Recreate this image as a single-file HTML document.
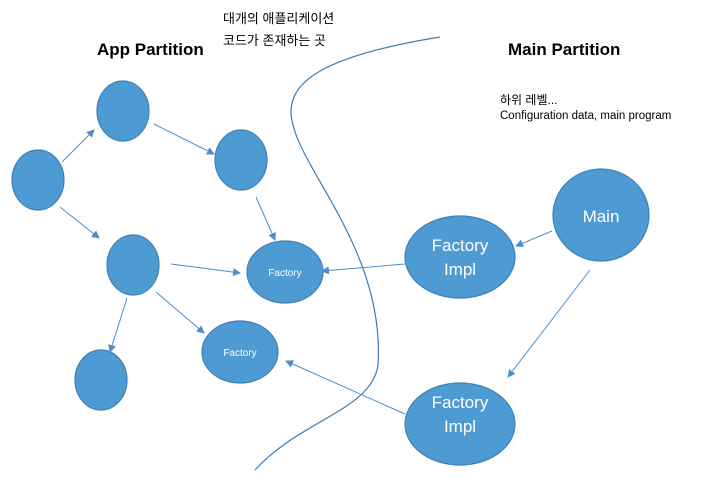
<!DOCTYPE html>
<html><head><meta charset="utf-8"><style>
html,body{margin:0;padding:0;background:#fff;}
svg{display:block;}
text{font-family:"Liberation Sans","Noto Sans CJK KR",sans-serif;}
</style></head><body>
<svg width="718" height="483" viewBox="0 0 718 483" xmlns="http://www.w3.org/2000/svg">
<defs>
<marker id="ah" markerWidth="8" markerHeight="8" refX="7" refY="4" orient="auto" markerUnits="userSpaceOnUse">
<path d="M0,0 L8,4 L0,8 z" fill="#4a8fcc"/>
</marker>
</defs>
<path d="M440,37 C330,55 280,80 293,125 C305,175 385,255 378,365 C372,410 300,420 255,470" fill="none" stroke="#3f7cb0" stroke-width="1.2"/>
<g fill="#4e9bd4" stroke="#3f80b8" stroke-width="1.2">
<ellipse cx="38" cy="180" rx="26" ry="30"/>
<ellipse cx="123" cy="111" rx="26" ry="30"/>
<ellipse cx="241" cy="160" rx="26" ry="30"/>
<ellipse cx="133" cy="265" rx="26" ry="30"/>
<ellipse cx="101" cy="380" rx="26" ry="30"/>
<ellipse cx="285" cy="272" rx="38" ry="31"/>
<ellipse cx="240" cy="352" rx="38" ry="31"/>
<ellipse cx="460" cy="257" rx="55" ry="41"/>
<ellipse cx="601" cy="215" rx="48" ry="46"/>
<ellipse cx="460" cy="424" rx="55" ry="41"/>
</g>
<g stroke="#4a8fcc" stroke-width="1" marker-end="url(#ah)">
<line x1="62" y1="162" x2="94" y2="130"/>
<line x1="154" y1="124" x2="214" y2="154"/>
<line x1="60" y1="207" x2="99" y2="238"/>
<line x1="256" y1="197" x2="275" y2="240"/>
<line x1="171" y1="264" x2="240" y2="273"/>
<line x1="156" y1="292" x2="204" y2="333"/>
<line x1="127" y1="298" x2="110" y2="352"/>
<line x1="405" y1="264" x2="322" y2="271"/>
<line x1="552" y1="231" x2="516" y2="246"/>
<line x1="590" y1="270" x2="508" y2="377"/>
<line x1="405" y1="414" x2="286" y2="361"/>
</g>
<g fill="#fff" text-anchor="middle">
<text x="285" y="276" font-size="10">Factory</text>
<text x="240" y="356" font-size="10">Factory</text>
<text x="460" y="251" font-size="17">Factory</text>
<text x="460" y="275" font-size="17">Impl</text>
<text x="601" y="222" font-size="17">Main</text>
<text x="460" y="408" font-size="17">Factory</text>
<text x="460" y="432" font-size="17">Impl</text>
</g>
<g fill="#000">
<text x="223" y="23" font-size="13">대개의 애플리케이션</text>
<text x="223" y="45" font-size="13">코드가 존재하는 곳</text>
<text x="97" y="55" font-size="17" font-weight="bold">App Partition</text>
<text x="508" y="55" font-size="17" font-weight="bold">Main Partition</text>
<text x="500" y="104" font-size="12">하위 레벨...</text>
<text x="500" y="119" font-size="11.5">Configuration data, main program</text>
</g>
</svg>
</body></html>
